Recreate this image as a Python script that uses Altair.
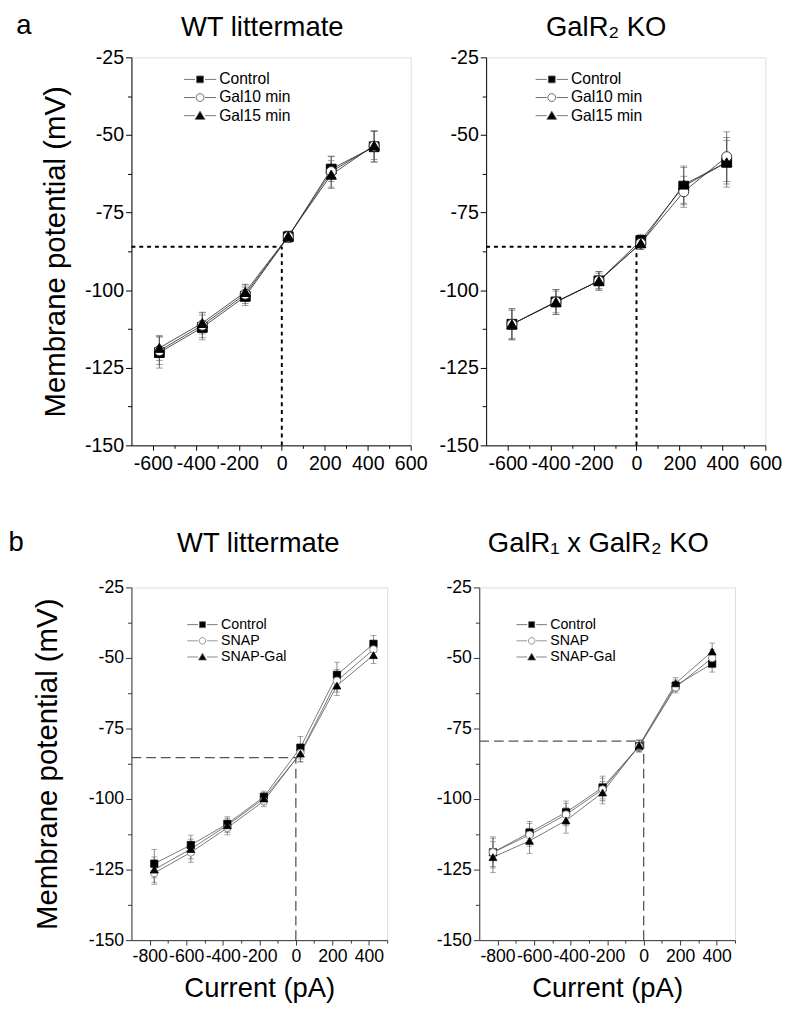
import altair as alt
import pandas as pd

FONT = "Liberation Sans"

# ---------------- data ----------------
SERIES_A = ["Control", "Gal10 min", "Gal15 min"]
SERIES_B = ["Control", "SNAP", "SNAP-Gal"]

# a, WT littermate
A1_X = [-570, -370, -170, 30, 230, 430]
A1_CONTROL = [-120.1, -112.0, -102.0, -82.8, -61.0, -53.8]
A1_CONTROL_ERR = [5.0, 4.0, 3.0, 1.8, 4.0, 5.0]
A1_GAL10 = [-119.5, -111.3, -101.3, -82.8, -61.8, -53.6]
A1_GAL10_ERR = [4.5, 4.0, 3.0, 1.8, 5.0, 5.0]
A1_GAL15 = [-118.6, -110.6, -100.6, -82.6, -62.8, -53.4]
A1_GAL15_ERR = [4.0, 3.5, 2.5, 1.5, 4.5, 4.5]
A1_REF = -86

# a, GalR2 KO
A2_X = [-580, -375, -175, 20, 220, 420]
A2_CONTROL = [-111.0, -103.8, -97.0, -84.0, -66.5, -58.8]
A2_CONTROL_ERR = [5.0, 4.0, 3.0, 2.0, 6.0, 8.0]
A2_GAL10 = [-111.0, -103.8, -97.0, -84.9, -68.3, -57.0]
A2_GAL10_ERR = [5.0, 4.0, 3.0, 2.0, 5.0, 8.0]
A2_GAL15 = [-111.0, -103.8, -97.0, -84.9, -66.0, -58.8]
A2_GAL15_ERR = [4.5, 3.5, 2.5, 2.0, 6.0, 7.0]
A2_REF = -86

# b, WT littermate
B1_X = [-775, -575, -375, -175, 25, 225, 425]
B1_CONTROL = [-122.9, -116.3, -108.8, -99.2, -81.8, -56.0, -45.0]
B1_CONTROL_ERR = [5.0, 3.5, 2.5, 2.0, 4.0, 4.5, 3.0]
B1_SNAP = [-126.2, -118.9, -110.2, -100.7, -83.7, -58.1, -47.0]
B1_SNAP_ERR = [4.0, 3.5, 2.5, 2.0, 3.0, 4.0, 3.0]
B1_SNAPGAL = [-125.0, -117.7, -109.3, -99.8, -83.9, -59.8, -49.0]
B1_SNAPGAL_ERR = [4.5, 3.5, 2.5, 2.0, 3.0, 3.5, 3.0]
B1_REF = -85.3

# b, GalR1 x GalR2 KO
B2_X = [-825, -625, -425, -225, -25, 175, 375]
B2_CONTROL = [-118.9, -111.9, -104.7, -95.9, -81.3, -59.8, -52.0]
B2_CONTROL_ERR = [5.5, 4.0, 4.0, 4.0, 2.0, 2.0, 3.0]
B2_SNAP = [-118.9, -112.7, -105.5, -96.6, -81.3, -60.4, -50.0]
B2_SNAP_ERR = [5.0, 4.0, 4.0, 4.0, 2.0, 2.0, 3.0]
B2_SNAPGAL = [-120.6, -114.8, -107.6, -97.7, -81.0, -59.0, -47.7]
B2_SNAPGAL_ERR = [5.5, 4.5, 4.5, 4.0, 2.0, 2.0, 3.0]
B2_REF = -79.5

Y_DOMAIN = [-150, -25]
Y_TICKS = [-150, -137.5, -125, -112.5, -100, -87.5, -75, -62.5, -50, -37.5, -25]
XA_DOMAIN = [-700, 600]
XA_TICKS = [-600, -500, -400, -300, -200, -100, 0, 100, 200, 300, 400, 500, 600]
XB_DOMAIN = [-900, 500]
XB_TICKS = [-800, -700, -600, -500, -400, -300, -200, -100, 0, 100, 200, 300, 400, 500]

TITLES = ["WT littermate", "GalR\u2082 KO", "WT littermate", "GalR\u2081 x GalR\u2082 KO"]
Y_TITLE = "Membrane potential (mV)"
X_TITLE = "Current (pA)"


def legend_paths(sq, cr, tri_w, tri_top, tri_bot, gap):
    line = "M-2,0L-%.2f,0M%.2f,0L2,0" % (gap, gap)
    square = line + "M-%.2f,-%.2fL%.2f,-%.2fL%.2f,%.2fL-%.2f,%.2fZ" % (sq, sq, sq, sq, sq, sq, sq, sq)
    circle = line + "M%.2f,0A%.2f,%.2f,0,1,1,-%.2f,0A%.2f,%.2f,0,1,1,%.2f,0Z" % (cr, cr, cr, cr, cr, cr, cr)
    tri = line + "M0,-%.2fL%.2f,%.2fL-%.2f,%.2fZ" % (tri_top, tri_w, tri_bot, tri_w, tri_bot)
    return [square, circle, tri]


def panel(xs, ys_list, errs_list, series, ref_y, xdom, xticks, label_step, title,
          sty, leg, w, h, ytitle=None, xtitle=None, title_dx=0):
    rows = []
    for s, ys, es in zip(series, ys_list, errs_list):
        for x, y, e in zip(xs, ys, es):
            rows.append({"series": s, "x": x, "y": y, "lo": y - e, "hi": y + e})
    df = pd.DataFrame(rows)

    xsc = alt.Scale(domain=xdom, nice=False, zero=False)
    ysc = alt.Scale(domain=Y_DOMAIN, nice=False, zero=False)
    common = dict(labelFont=FONT, labelColor="black", domainColor=sty["axis"],
                  tickColor=sty["axis"], tickWidth=1, domainWidth=1, grid=False,
                  labelOverlap=False, labelFlush=False,
                  titleFont=FONT, titleFontWeight="normal", titleColor="black")
    xaxis = alt.Axis(values=xticks,
                     labelExpr="datum.value %% %d === 0 ? '' + datum.value : ''" % label_step,
                     tickSize={"condition": {"test": "datum.value %% %d === 0" % label_step, "value": 5}, "value": 3},
                     labelFontSize=sty["tickfs"], labelPadding=sty["xlabpad"],
                     titleFontSize=28, titlePadding=sty["xtitlepad"], **common)
    yaxis = alt.Axis(values=Y_TICKS,
                     labelExpr="datum.value % 25 === 0 ? '' + datum.value : ''",
                     tickSize={"condition": {"test": "datum.value % 25 === 0", "value": 6}, "value": 4},
                     labelFontSize=sty["tickfs"], labelPadding=2,
                     titleFontSize=30, titlePadding=sty["ytitlepad"], **common)

    X = lambda f: alt.X(f + ":Q", scale=xsc, axis=xaxis, title=xtitle)
    Y = lambda f: alt.Y(f + ":Q", scale=ysc, axis=yaxis, title=ytitle)

    href = pd.DataFrame({"x": [xdom[0]], "x2": [0], "y": [ref_y]})
    vref = pd.DataFrame({"x": [0], "y": [Y_DOMAIN[0]], "y2": [ref_y]})
    ref_h = alt.Chart(href).mark_rule(color=sty["refc"], strokeWidth=sty["refw"],
                                      strokeDash=sty["dash"]).encode(x=X("x"), x2="x2", y=Y("y"))
    ref_v = alt.Chart(vref).mark_rule(color=sty["refc"], strokeWidth=sty["refw"],
                                      strokeDash=sty["dash"]).encode(x=X("x"), y=Y("y"), y2="y2")

    err = alt.Chart(df).mark_rule(color=sty["errc"], strokeWidth=0.8).encode(x=X("x"), y=Y("lo"), y2="hi")
    cap_lo = alt.Chart(df).mark_tick(color=sty["errc"], thickness=0.8, size=sty["cap"],
                                     orient="horizontal").encode(x=X("x"), y=Y("lo"))
    cap_hi = alt.Chart(df).mark_tick(color=sty["errc"], thickness=0.8, size=sty["cap"],
                                     orient="horizontal").encode(x=X("x"), y=Y("hi"))
    lines = alt.Chart(df).mark_line(color=sty["linec"], strokeWidth=0.8).encode(
        x=X("x"), y=Y("y"), detail="series:N")

    pts = alt.Chart(df).mark_point(strokeWidth=sty["ptsw"], opacity=1).encode(
        x=X("x"), y=Y("y"),
        shape=alt.Shape("series:N", scale=alt.Scale(domain=series, range=["square", "circle", "triangle-up"]), legend=None),
        fill=alt.Fill("series:N", scale=alt.Scale(domain=series, range=["black", "white", "black"]), legend=None),
        stroke=alt.Stroke("series:N", scale=alt.Scale(domain=series, range=["black", sty["circc"], "black"]), legend=None),
        size=alt.Size("series:N", scale=alt.Scale(domain=series, range=sty["sizes"]), legend=None),
    )

    legend = alt.Legend(
        orient="none", legendX=leg["x"], legendY=leg["y"], title=None, padding=0,
        labelFont=FONT, labelFontSize=leg["fs"], labelColor="black",
        labelOffset=leg["off"], symbolSize=leg["size"], rowPadding=leg["rowpad"],
        symbolStrokeWidth=0.8, symbolOpacity=1)
    # legend-only layer: no marks drawn (empty after filter), legend from explicit domains
    leg_layer = alt.Chart(df).transform_filter("false").mark_point(strokeWidth=0.8).encode(
        x=X("x"), y=Y("y"),
        shape=alt.Shape("series:N", scale=alt.Scale(domain=series, range=leg["paths"]), legend=legend),
        fill=alt.Fill("series:N", scale=alt.Scale(domain=series, range=["black", "white", "black"]), legend=legend),
        stroke=alt.Stroke("series:N", scale=alt.Scale(domain=series, range=sty["legc"]), legend=legend),
    )

    ch = alt.layer(ref_h, ref_v, err, cap_lo, cap_hi, lines, pts, leg_layer).resolve_scale(
        shape="independent", fill="independent", stroke="independent", size="independent"
    ).resolve_legend(shape="independent", fill="independent", stroke="independent").properties(
        width=w, height=h,
        title=alt.TitleParams(title, font=FONT, fontSize=28, fontWeight="normal", color="black",
                              anchor="middle", frame="group", offset=sty["titleoff"], dx=title_dx))
    return ch


STY_A = dict(axis="black", tickfs=20, xlabpad=4, xtitlepad=8, ytitlepad=14, refc="black", refw=2,
             dash=[4, 4], errc="#555", cap=7, linec="#222", circc="#333", legc=["#555", "#444", "#555"],
             sizes=[100, 110, 150], titleoff=6, ptsw=1)
STY_B = dict(axis="#333", tickfs=18, xlabpad=3, xtitlepad=10, ytitlepad=26, refc="#555", refw=1.3,
             dash=[10, 5], errc="#666", cap=6, linec="#555", circc="#777", legc=["#555", "#777", "#666"],
             sizes=[55, 65, 75], titleoff=21, ptsw=0.8)

PATHS_A = legend_paths(0.42, 0.48, 0.6, 0.55, 0.45, 0.62)
PATHS_B = legend_paths(0.39, 0.43, 0.52, 0.5, 0.4, 0.6)

leg_a1 = dict(paths=PATHS_A, x=61, y=13.5, fs=16, off=10.5, size=272, rowpad=1.5)
leg_a2 = dict(paths=PATHS_A, x=58, y=13.5, fs=16, off=10.5, size=272, rowpad=1.5)
leg_b1 = dict(paths=PATHS_B, x=64, y=29.5, fs=14.5, off=10.4, size=240, rowpad=1.5)
leg_b2 = dict(paths=PATHS_B, x=45, y=29.5, fs=14.5, off=10.4, size=240, rowpad=1.5)

a1 = panel(A1_X, [A1_CONTROL, A1_GAL10, A1_GAL15], [A1_CONTROL_ERR, A1_GAL10_ERR, A1_GAL15_ERR],
           SERIES_A, A1_REF, XA_DOMAIN, XA_TICKS, 200, TITLES[0], STY_A, leg_a1, 285, 396,
           ytitle=Y_TITLE, title_dx=-9)
a2 = panel(A2_X, [A2_CONTROL, A2_GAL10, A2_GAL15], [A2_CONTROL_ERR, A2_GAL10_ERR, A2_GAL15_ERR],
           SERIES_A, A2_REF, XA_DOMAIN, XA_TICKS, 200, TITLES[1], STY_A, leg_a2, 285, 396, title_dx=-20)
b1 = panel(B1_X, [B1_CONTROL, B1_SNAP, B1_SNAPGAL], [B1_CONTROL_ERR, B1_SNAP_ERR, B1_SNAPGAL_ERR],
           SERIES_B, B1_REF, XB_DOMAIN, XB_TICKS, 200, TITLES[2], STY_B, leg_b1, 261, 360,
           ytitle=Y_TITLE, xtitle=X_TITLE, title_dx=-1)
b2 = panel(B2_X, [B2_CONTROL, B2_SNAP, B2_SNAPGAL], [B2_CONTROL_ERR, B2_SNAP_ERR, B2_SNAPGAL_ERR],
           SERIES_B, B2_REF, XB_DOMAIN, XB_TICKS, 200, TITLES[3], STY_B, leg_b2, 261, 360,
           xtitle=X_TITLE, title_dx=-9)

RES = dict(x="independent", y="independent", shape="independent", fill="independent",
           stroke="independent", size="independent")
LRES = dict(shape="independent", fill="independent", stroke="independent")

row_a = alt.hconcat(a1, a2, spacing=10,
                    title=alt.TitleParams("a", font=FONT, fontSize=28, fontWeight="normal", color="black",
                                          anchor="start", offset=-27, dx=-25)
                    ).resolve_scale(**RES).resolve_legend(**LRES)
row_b = alt.hconcat(b1, b2, spacing=48,
                    title=alt.TitleParams("b", font=FONT, fontSize=28, fontWeight="normal", color="black",
                                          anchor="start", offset=-27, dx=-25)
                    ).resolve_scale(**RES).resolve_legend(**LRES)

chart = alt.vconcat(row_a, row_b, spacing=55).resolve_scale(**RES).resolve_legend(**LRES).properties(
    padding={"left": 0, "top": -6, "right": 0, "bottom": 0}
).configure_view(stroke=None).configure(font=FONT)

chart.save("out.html", embed_options={"renderer": "svg", "actions": False})
